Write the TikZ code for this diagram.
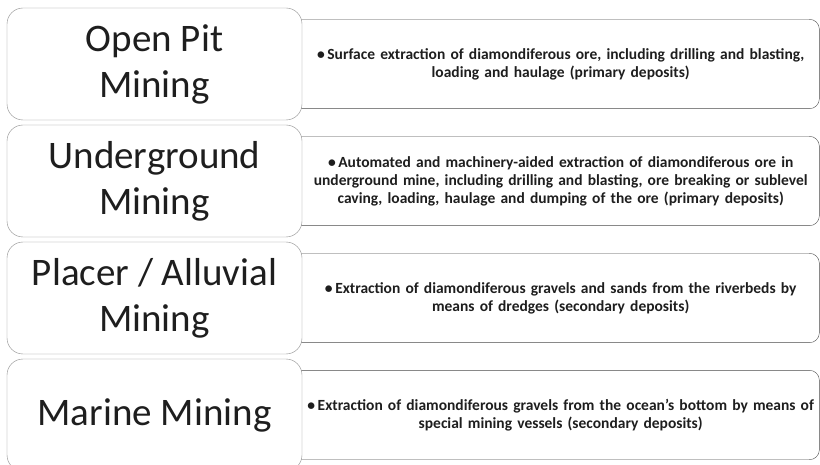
\documentclass[tikz,border=0pt]{standalone}
\usepackage{fontspec}
\setmainfont{Carlito}
\usetikzlibrary{positioning}

\definecolor{methodline}{HTML}{8A8A8A}
\definecolor{detailline}{HTML}{4A4A4A}
\definecolor{inktext}{HTML}{1E1E1E}

\begin{document}
\begin{tikzpicture}[x=1pt,y=-1pt,
	methodbox/.style={draw=methodline, fill=white, rounded corners=16pt,
		minimum width=295pt, minimum height=112pt, inner sep=0pt,
		align=center, text=inktext, font=\fontsize{39}{46}\selectfont},
	detailbox/.style={minimum width=517pt, minimum height=89pt, inner sep=0pt,
		anchor=west, text width=515pt, align=center, text=inktext,
		font=\fontsize{15.5}{18}\selectfont\bfseries},
	detailframe/.style={draw=detailline, rounded corners=10pt}]
	\useasboundingbox (0,0) rectangle (820,465);

	% descriptions
	\node[detailbox] (d1) at (302,64) {\textbullet\,Surface extraction of diamondiferous ore, including drilling and blasting,\\ loading and haulage (primary deposits)};
	\node[detailbox] (d2) at (302,181) {\textbullet\,Automated and machinery-aided extraction of diamondiferous ore in\\ underground mine, including drilling and blasting, ore breaking or sublevel\\ caving, loading, haulage and dumping of the ore (primary deposits)};
	\node[detailbox] (d3) at (302,298) {\textbullet\,Extraction of diamondiferous gravels and sands from the riverbeds by\\ means of dredges (secondary deposits)};
	\node[detailbox] (d4) at (302,415) {\textbullet\,Extraction of diamondiferous gravels from the ocean’s bottom by means of\\ special mining vessels (secondary deposits)};

	% their frames run in under the method boxes, so only the right side is round
	\foreach \d in {d1,d2,d3,d4}
		\draw[detailframe] (\d.north west) ++(-12,0) rectangle (\d.south east);

	% mining methods
	\node[methodbox] (m1) at (154.5,64) {Open Pit\\ Mining};
	\node[methodbox] (m2) at (154.5,181) {Underground\\ Mining};
	\node[methodbox] (m3) at (154.5,298) {Placer / Alluvial\\ Mining};
	\node[methodbox] (m4) at (154.5,415) {Marine Mining};
\end{tikzpicture}
\end{document}
